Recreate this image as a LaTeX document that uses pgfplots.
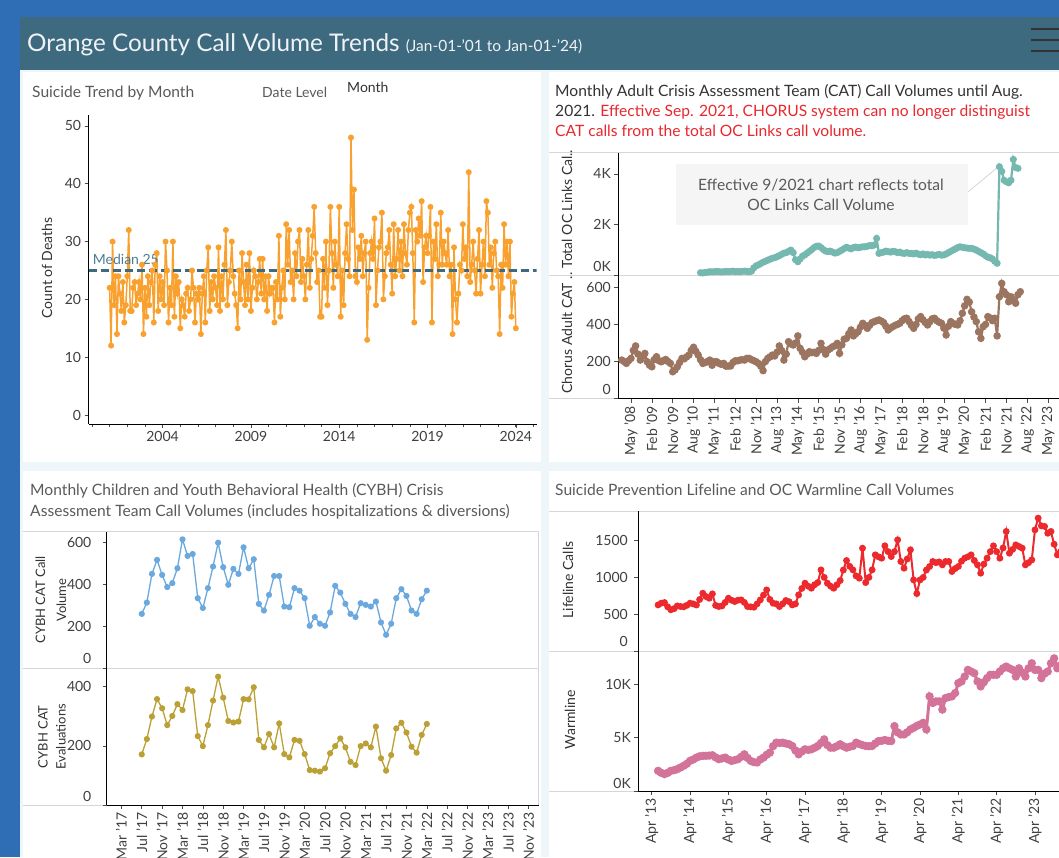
\documentclass[border=0pt]{standalone}
\usepackage{fontspec}
\setmainfont{Lato}
\usepackage{pgfplots}
\usepackage{pgfplotstable}
\pgfplotsset{compat=1.18}
\definecolor{bgblue}{HTML}{2F6DB5}
\definecolor{hdr}{HTML}{3E6A80}
\definecolor{pagebg}{HTML}{EEF6FA}
\definecolor{corng}{HTML}{F8A12E}
\definecolor{cteal}{HTML}{74B8AF}
\definecolor{cbrown}{HTML}{9C7560}
\definecolor{cblue}{HTML}{6AA8DE}
\definecolor{cgold}{HTML}{BBA035}
\definecolor{cred}{HTML}{EC2A2E}
\definecolor{cpink}{HTML}{D4739A}
\definecolor{ttlc}{HTML}{5A5A5A}
\definecolor{tickc}{HTML}{404040}
\definecolor{tdark}{HTML}{333333}
\definecolor{tred}{HTML}{E8282E}
\definecolor{medc}{HTML}{4E7C95}
\definecolor{sepc}{HTML}{D6D6D6}
\newcommand\tickf{\fontsize{14}{16}\selectfont}
\newcommand\ttlf{\fontsize{15.6}{18}\selectfont}
\newcommand\labf{\fontsize{14}{16}\selectfont}

\pgfplotstableread[row sep=\\]{y\\
22\\12\\30\\19\\24\\14\\24\\21\\18\\23\\16\\19\\
24\\32\\18\\18\\22\\23\\19\\21\\23\\20\\26\\14\\
22\\17\\24\\19\\23\\25\\16\\26\\28\\18\\24\\20\\
23\\19\\30\\25\\16\\22\\19\\30\\17\\24\\21\\23\\
15\\20\\19\\17\\21\\22\\18\\20\\25\\22\\16\\21\\
20\\22\\14\\21\\24\\16\\25\\29\\18\\23\\20\\24\\
22\\19\\29\\18\\24\\20\\26\\32\\19\\23\\25\\30\\
24\\21\\19\\15\\25\\20\\28\\23\\19\\26\\20\\28\\
18\\22\\25\\24\\20\\23\\27\\21\\27\\20\\24\\18\\
24\\21\\22\\22\\16\\23\\20\\31\\17\\22\\25\\20\\
33\\26\\32\\23\\25\\20\\28\\24\\30\\32\\23\\27\\
24\\20\\26\\32\\22\\27\\31\\36\\28\\23\\25\\17\\
17\\27\\22\\30\\19\\25\\36\\28\\22\\30\\26\\24\\
36\\17\\25\\19\\28\\33\\27\\24\\48\\32\\39\\24\\
23\\29\\27\\31\\24\\28\\30\\13\\22\\28\\30\\27\\
34\\19\\25\\29\\30\\35\\20\\24\\28\\29\\32\\26\\
21\\33\\24\\27\\32\\25\\30\\24\\33\\28\\26\\32\\
35\\36\\28\\16\\32\\30\\34\\31\\37\\23\\29\\31\\
28\\31\\36\\16\\30\\27\\33\\24\\26\\35\\26\\30\\
28\\26\\32\\24\\26\\14\\29\\20\\16\\21\\26\\25\\
33\\27\\29\\24\\42\\23\\26\\30\\25\\21\\27\\32\\
21\\26\\30\\24\\37\\35\\26\\29\\22\\28\\30\\25\\
24\\14\\26\\22\\33\\26\\30\\24\\30\\17\\21\\23\\
15\\
}\suicide

\pgfplotstableread[row sep=\\]{y\\
110\\100\\120\\130\\150\\140\\150\\160\\150\\140\\150\\160\\150\\160\\170\\150\\160\\150\\160\\170\\160\\150\\170\\
300\\380\\420\\470\\520\\560\\600\\640\\680\\700\\740\\
780\\830\\880\\900\\950\\1000\\
900\\620\\540\\650\\760\\810\\
880\\950\\1020\\1100\\1150\\1160\\
1100\\1020\\960\\940\\960\\920\\880\\900\\
950\\1000\\1060\\1110\\1080\\1050\\1100\\1120\\1090\\1110\\1130\\
1130\\1150\\1180\\1170\\1200\\1460\\
870\\900\\920\\960\\940\\920\\950\\940\\900\\920\\880\\870\\900\\870\\
870\\850\\880\\840\\820\\850\\810\\830\\800\\820\\790\\810\\830\\800\\810\\
850\\900\\950\\1000\\1050\\1100\\1130\\1110\\1090\\1080\\1070\\
1070\\1040\\1000\\950\\900\\850\\780\\720\\700\\650\\560\\480\\
4280\\4100\\3750\\3690\\3650\\3750\\4570\\4250\\4220\\
}\tealdata

\pgfplotstableread[row sep=\\]{y\\
208\\200\\190\\205\\217\\260\\284\\240\\208\\230\\244\\199\\
180\\172\\210\\226\\205\\199\\205\\211\\200\\190\\145\\155\\
172\\195\\217\\215\\225\\235\\260\\277\\255\\235\\210\\190\\
195\\200\\208\\180\\199\\199\\190\\185\\190\\175\\176\\176\\
195\\204\\204\\208\\210\\208\\217\\217\\210\\205\\199\\190\\
175\\151\\200\\217\\225\\235\\230\\250\\284\\260\\208\\240\\
307\\295\\289\\300\\338\\271\\250\\226\\240\\253\\248\\250\\
244\\260\\298\\265\\240\\262\\270\\280\\285\\298\\244\\290\\
320\\325\\350\\370\\338\\350\\361\\385\\406\\395\\379\\395\\
410\\415\\420\\424\\418\\410\\390\\370\\380\\388\\395\\400\\
406\\420\\430\\433\\415\\395\\379\\400\\430\\442\\425\\410\\
397\\415\\430\\433\\420\\412\\406\\380\\343\\390\\415\\405\\
400\\397\\420\\460\\500\\535\\520\\468\\440\\415\\360\\325\\
388\\400\\442\\435\\420\\433\\338\\549\\621\\576\\560\\522\\
549\\530\\514\\560\\576\\
}\browndata

\pgfplotstableread[row sep=\\]{y\\
260\\314\\451\\518\\446\\388\\407\\478\\616\\537\\
546\\335\\288\\383\\486\\600\\483\\399\\475\\451\\
578\\478\\521\\308\\276\\351\\441\\441\\295\\292\\
383\\371\\335\\203\\245\\213\\203\\267\\394\\362\\
308\\260\\245\\311\\303\\295\\319\\219\\160\\213\\
335\\378\\346\\276\\260\\330\\371\\
}\bluedata

\pgfplotstableread[row sep=\\]{y\\
171\\223\\299\\358\\327\\270\\301\\341\\321\\391\\
385\\233\\199\\270\\353\\434\\363\\284\\279\\282\\
358\\357\\398\\220\\195\\240\\195\\276\\172\\161\\
220\\217\\172\\118\\116\\113\\124\\175\\199\\225\\
195\\146\\135\\199\\208\\195\\265\\158\\116\\169\\
259\\278\\245\\197\\177\\237\\274\\
}\golddata

\pgfplotstableread[row sep=\\]{y\\
626\\650\\658\\600\\560\\575\\612\\605\\600\\620\\
650\\640\\625\\700\\785\\740\\717\\776\\620\\604\\
612\\660\\717\\690\\672\\690\\694\\660\\604\\600\\
595\\640\\694\\760\\830\\700\\649\\640\\604\\640\\
686\\670\\626\\640\\762\\850\\921\\880\\853\\900\\
930\\1102\\1000\\921\\880\\853\\900\\957\\1100\\1229\\
1150\\1102\\1020\\989\\1397\\930\\1000\\1102\\1306\\1280\\
1261\\1429\\1350\\1283\\1350\\1510\\1216\\1125\\1250\\1374\\
966\\780\\966\\1000\\1100\\1148\\1216\\1200\\1210\\1170\\
1216\\1216\\1080\\1120\\1148\\1220\\1261\\1280\\1306\\1230\\
1170\\1057\\1180\\1261\\1350\\1429\\1350\\1261\\1400\\1624\\
1329\\1380\\1442\\1420\\1397\\1170\\1200\\1238\\1646\\1805\\
1700\\1692\\1600\\1624\\1450\\1306\\1350\\
}\reddata

\pgfplotstableread[row sep=\\]{y\\
1890\\1700\\1580\\1700\\1890\\1950\\2050\\2200\\2360\\2550\\
2820\\2950\\3130\\3250\\3290\\3300\\3320\\3350\\3150\\2980\\
3050\\3130\\2950\\2820\\2900\\2980\\3200\\3440\\3100\\2820\\
2700\\2670\\2950\\3130\\3400\\3600\\4200\\4530\\4500\\4530\\
4450\\4380\\4220\\3800\\3440\\3700\\3910\\3850\\3910\\4050\\
4220\\4500\\4840\\4300\\4060\\4060\\4200\\4380\\4200\\4060\\
4150\\4220\\4530\\4400\\4300\\4220\\4200\\4220\\4450\\4680\\
4700\\4780\\4700\\4680\\6080\\5500\\5300\\5300\\5500\\5770\\
5920\\6100\\6230\\6390\\5770\\8870\\8250\\8400\\8400\\7630\\
8710\\8800\\8870\\9180\\10110\\10270\\10730\\11350\\11200\\11040\\
10270\\9800\\10200\\10580\\10890\\10890\\10890\\11200\\11500\\11660\\
11500\\11350\\10730\\11500\\11100\\10730\\11500\\11970\\11350\\11350\\
10580\\11000\\11200\\11970\\12430\\11500\\11800\\
}\pinkdata

\pgfplotsset{
  base/.style={scale only axis, anchor=south west,
    axis line style={black, line width=0.9pt},
    every tick/.style={black!70, line width=0.6pt},
    major tick length=4pt, minor tick length=3pt, tick align=outside,
    tick label style={font=\tickf, text=tickc},
    /pgf/number format/assume math mode=true,
    /pgf/number format/1000 sep={},
    scaled ticks=false},
  rotx/.style={xticklabel style={rotate=90, anchor=east}},
  series/.style={color=#1, mark=*, mark options={solid}},
}

\begin{document}
\begin{tikzpicture}
\begin{scope}[x=1pt,y=1pt]
\fill[bgblue] (0,0) rectangle (1059,857);
\fill[pagebg] (20,0) rectangle (1059,787);
\fill[hdr] (20,787) rectangle (1059,840);
% panels
\fill[white] (23,395) rectangle (541,785);
\fill[white] (549,395) rectangle (1059,785);
\fill[white] (23,0) rectangle (541,386);
\fill[white] (549,0) rectangle (1059,386);
% header
\node[anchor=base west, inner sep=0pt, text=white!92!hdr] at (27,805)
  {\fontsize{24.3}{28}\selectfont Orange County Call Volume Trends\ \fontsize{15.5}{18}\selectfont(Jan-01-’01 to Jan-01-’24)};
\foreach \yy in {828,817,806} \draw[tdark, line width=2.3pt] (1031,\yy) -- (1062,\yy);
% panel 1 texts
\node[anchor=base west, inner sep=0pt, font=\ttlf, text=ttlc] at (32,759) {Suicide Trend by Month};
\node[anchor=base west, inner sep=0pt, font=\labf, text=ttlc] at (262,759) {Date Level};
\node[anchor=base west, inner sep=0pt, font=\labf, text=tdark] at (347,764) {Month};
\node[rotate=90, font=\labf, text=tdark] at (47,589) {Count of Deaths};
% panel 2 texts
\node[anchor=base west, inner sep=0pt, font=\ttlf, text=tdark] at (555,760.5) {Monthly Adult Crisis Assessment Team (CAT) Call Volumes until Aug.};
\node[anchor=base west, inner sep=0pt, font=\ttlf, text=tdark] at (555,740) {2021. \textcolor{tred}{Effective Sep. 2021, CHORUS system can no longer distinguist}};
\node[anchor=base west, inner sep=0pt, font=\ttlf, text=tred] at (555,720) {CAT calls from the total OC Links call volume.};
\draw[sepc, line width=0.9pt] (549,704.3) -- (1059,704.3);
\draw[sepc, line width=0.9pt] (549,581.5) -- (1059,581.5);
\draw[sepc, line width=0.9pt] (549,458.3) -- (618.3,458.3);
\node[rotate=90, anchor=west, font=\labf, text=tdark] at (567,585) {Total OC Links Cal..};
\node[rotate=90, anchor=west, font=\labf, text=tdark] at (567,460) {Chorus Adult CAT ..};
\fill[black!4] (675.7,632) rectangle (968.3,692.7);
\node[font=\ttlf, text=ttlc] at (821,672) {Effective 9/2021 chart reflects total};
\node[font=\ttlf, text=ttlc] at (821,652) {OC Links Call Volume};
\draw[black!20, line width=0.6pt] (968.3,665.3) -- (998.3,690.3);
% panel 3 texts
\node[anchor=base west, inner sep=0pt, font=\ttlf, text=ttlc] at (30,361) {Monthly Children and Youth Behavioral Health (CYBH) Crisis};
\node[anchor=base west, inner sep=0pt, font=\ttlf, text=ttlc] at (30,340.5) {Assessment Team Call Volumes (includes hospitalizations \& diversions)};
\draw[sepc, line width=0.9pt] (23,325.3) -- (538.8,325.3);
\draw[sepc, line width=0.9pt] (23,188.7) -- (538.8,188.7);
\draw[sepc, line width=0.9pt] (23,52) -- (106.9,52);
\draw[sepc, line width=0.9pt] (538.8,325.3) -- (538.8,52);
\node[rotate=90, align=center, font=\fontsize{13}{21}\selectfont, text=tdark] at (51,257) {CYBH CAT Call\\Volume};
\node[rotate=90, align=center, font=\fontsize{13}{18}\selectfont, text=tdark] at (52,120.3) {CYBH CAT\\Evaluations};
% panel 4 texts
\node[anchor=base west, inner sep=0pt, font=\ttlf, text=ttlc] at (555,361) {Suicide Prevention Lifeline and OC Warmline Call Volumes};
\draw[sepc, line width=0.9pt] (549,346) -- (1059,346);
\draw[sepc, line width=0.9pt] (549,206) -- (1059,206);
\draw[sepc, line width=0.9pt] (549,66) -- (638.3,66);
\node[rotate=90, font=\labf, text=tdark] at (568,277) {Lifeline Calls};
\node[rotate=90, font=\labf, text=tdark] at (570,137) {Warmline};
\end{scope}

% ---------- panel 1 ----------
\begin{axis}[base, at={(88.6pt,433pt)}, width=447.9pt, height=309pt,
  xmin=1999.81, xmax=2025.17, ymin=-1.56, ymax=51.9,
  axis x line*=bottom, axis y line*=left,
  xtick={2004,2009,2014,2019,2024}, xticklabels={2004,2009,2014,2019,2024},
  minor xtick={2000,...,2025}, ytick={0,10,20,30,40,50}]
\addplot[series=corng, line width=1.5pt, mark size=2.2pt] table[x expr={2001+\coordindex/12}, y=y] {\suicide};
\addplot[color=hdr, line width=3pt, dash pattern=on 8.5pt off 3.5pt] coordinates {(1999.81,25) (2025.17,25)};
\node[anchor=base west, inner sep=0pt, font=\labf, text=medc] at (axis cs:2000.04,26.1) {Median 25};
\end{axis}

% ---------- panel 2 ----------
\begin{axis}[base, at={(618.3pt,581.5pt)}, width=461.7pt, height=122.5pt,
  xmin=94.52, xmax=293.78, ymin=0, ymax=4823,
  axis x line=none, axis y line*=left, xtick=\empty,
  ytick={2000,4000}, yticklabels={2K,4K},
  extra y ticks={0}, extra y tick labels={0K},
  extra y tick style={yticklabel style={yshift=8.8pt}}]
\addplot[series=cteal, line width=2.2pt, mark size=2.4pt] table[x expr={130+\coordindex}, y=y] {\tealdata};
\end{axis}
\begin{axis}[base, rotx, at={(618.3pt,458.3pt)}, width=461.7pt, height=123.2pt,
  xmin=94.52, xmax=293.78, ymin=0, ymax=663.4,
  axis x line*=bottom, axis y line*=left,
  ytick={200,400,600}, extra y ticks={0}, extra y tick labels={0},
  extra y tick style={yticklabel style={yshift=9.4pt}},
  xtick={100,109,...,280},
  xticklabels={May ’08,Feb ’09,Nov ’09,Aug ’10,May ’11,Feb ’12,Nov ’12,Aug ’13,May ’14,Feb ’15,Nov ’15,Aug ’16,May ’17,Feb ’18,Nov ’18,Aug ’19,May ’20,Feb ’21,Nov ’21,Aug ’22,May ’23}]
\addplot[series=cbrown, line width=2.2pt, mark size=2.6pt] table[x expr={96+\coordindex}, y=y] {\browndata};
\end{axis}

% ---------- panel 3 ----------
\begin{axis}[base, at={(106.9pt,188.7pt)}, width=431.9pt, height=136.6pt,
  xmin=203.15, xmax=288.0, ymin=0, ymax=652.6,
  axis x line=none, axis y line*=left, xtick=\empty,
  yticklabel style={xshift=-8pt},
  ytick={200,400,600}, extra y ticks={0}, extra y tick labels={0},
  extra y tick style={yticklabel style={yshift=10pt}}]
\addplot[series=cblue, line width=1.3pt, mark size=2.4pt] table[x expr={210+\coordindex}, y=y] {\bluedata};
\end{axis}
\begin{axis}[base, rotx, at={(106.9pt,52pt)}, width=431.9pt, height=136.7pt,
  xmin=203.15, xmax=288.0, ymin=0, ymax=462.1,
  axis x line*=bottom, axis y line*=left,
  yticklabel style={xshift=-8pt},
  ytick={200,400}, extra y ticks={0}, extra y tick labels={0},
  extra y tick style={yticklabel style={yshift=8.3pt}},
  xtick={206,210,...,286},
  xticklabels={Mar ’17,Jul ’17,Nov ’17,Mar ’18,Jul ’18,Nov ’18,Mar ’19,Jul ’19,Nov ’19,Mar ’20,Jul ’20,Nov ’20,Mar ’21,Jul ’21,Nov ’21,Mar ’22,Jul ’22,Nov ’22,Mar ’23,Jul ’23,Nov ’23}]
\addplot[series=cgold, line width=1.3pt, mark size=2.4pt] table[x expr={210+\coordindex}, y=y] {\golddata};
\end{axis}

% ---------- panel 4 ----------
\begin{axis}[base, at={(638.3pt,206pt)}, width=441.7pt, height=140pt,
  xmin=154.8, xmax=293.1, ymin=0, ymax=1902,
  axis x line=none, axis y line*=left, xtick=\empty,
  yticklabel style={xshift=-3pt},
  ytick={500,1000,1500}, extra y ticks={0}, extra y tick labels={0},
  extra y tick style={yticklabel style={yshift=9.3pt}}]
\addplot[series=cred, line width=2pt, mark size=2.4pt] table[x expr={161+\coordindex}, y=y] {\reddata};
\end{axis}
\begin{axis}[base, rotx, at={(638.3pt,66pt)}, width=441.7pt, height=140pt,
  xmin=154.8, xmax=293.1, ymin=0, ymax=13120,
  axis x line*=bottom, axis y line*=left,
  ytick={5000,10000}, yticklabels={5K,10K},
  extra y ticks={0}, extra y tick labels={0K},
  extra y tick style={yticklabel style={yshift=7.7pt}},
  xtick={159,171,...,291},
  xticklabels={Apr ’13,Apr ’14,Apr ’15,Apr ’16,Apr ’17,Apr ’18,Apr ’19,Apr ’20,Apr ’21,Apr ’22,Apr ’23,Apr ’24}]
\addplot[series=cpink, line width=3pt, mark size=2.6pt] table[x expr={161+\coordindex}, y=y] {\pinkdata};
\end{axis}
\pgfresetboundingbox
\path[use as bounding box] (0pt,0pt) rectangle (1059pt,857pt);
\end{tikzpicture}
\end{document}
